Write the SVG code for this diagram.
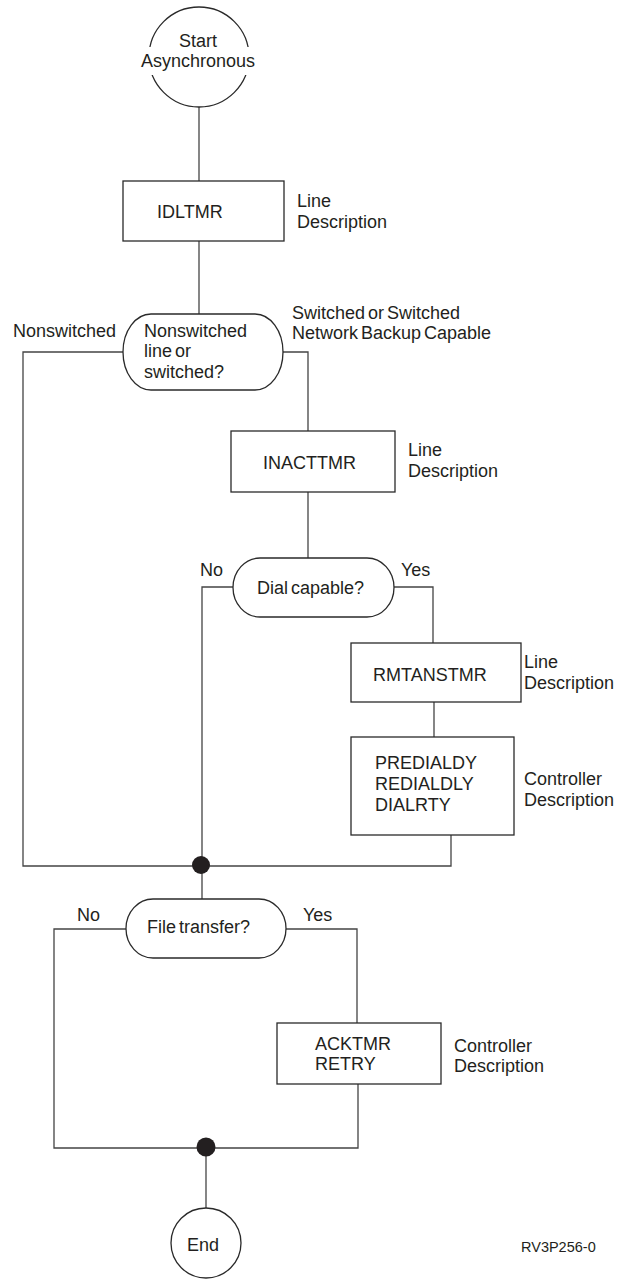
<svg xmlns="http://www.w3.org/2000/svg" width="620" height="1279" viewBox="0 0 620 1279">
<style>
.shape{fill:#fff;stroke:#2a2a2a;stroke-width:1.3}
.conn{fill:none;stroke:#444;stroke-width:1.3}
.dot{fill:#231f20;stroke:none}
text{font-family:"Liberation Sans",Arial,sans-serif;font-size:18px;fill:#231f20}
.ws{word-spacing:-2px}
.small{font-size:14.5px}
</style>
<rect width="620" height="1279" fill="#fff"/>
<g id="connectors">
<path class="conn" d="M199,107 V181"/>
<path class="conn" d="M199,241 V314"/>
<path class="conn" d="M123,352 H23 V866 H451 V835"/>
<path class="conn" d="M283,352 H308 V431"/>
<path class="conn" d="M308,492 V558"/>
<path class="conn" d="M233,587 H202 V899"/>
<path class="conn" d="M394,587 H433 V643"/>
<path class="conn" d="M434,702 V737"/>
<path class="conn" d="M126,929 H54 V1148 H358 V1084"/>
<path class="conn" d="M286,929 H357 V1023"/>
<path class="conn" d="M206,1147 V1208"/>
<circle class="dot" cx="201" cy="865" r="9"/>
<circle class="dot" cx="206" cy="1147" r="9.5"/>
</g>
<g id="start">
<circle class="shape" cx="199" cy="57" r="50"/>
<rect x="138" y="47" width="122" height="28" fill="#fff"/>
<text x="198" y="47" text-anchor="middle">Start</text>
<text x="198" y="67" text-anchor="middle">Asynchronous</text>
</g>
<g id="idltmr">
<rect class="shape" x="123" y="181" width="161" height="60"/>
<text x="157" y="218">IDLTMR</text>
<text x="297" y="207">Line</text>
<text x="297" y="228">Description</text>
</g>
<g id="decision-switched">
<rect class="shape" x="123" y="314" width="160" height="76" rx="28" ry="38"/>
<text x="144" y="337">Nonswitched</text>
<text x="144" y="357" class="ws">line or</text>
<text x="144" y="378">switched?</text>
<text x="13" y="337">Nonswitched</text>
<text x="292" y="319" class="ws">Switched or Switched</text>
<text x="292" y="339" class="ws">Network Backup Capable</text>
</g>
<g id="inacttmr">
<rect class="shape" x="231" y="431" width="164" height="61"/>
<text x="263" y="469">INACTTMR</text>
<text x="408" y="456">Line</text>
<text x="408" y="477">Description</text>
</g>
<g id="decision-dial">
<rect class="shape" x="233" y="558" width="161" height="59" rx="27" ry="29.5"/>
<text x="257" y="594" class="ws">Dial capable?</text>
<text x="200" y="576">No</text>
<text x="401" y="576">Yes</text>
</g>
<g id="rmtanstmr">
<rect class="shape" x="351" y="643" width="170" height="59"/>
<text x="373" y="681">RMTANSTMR</text>
<text x="524" y="668">Line</text>
<text x="524" y="689">Description</text>
</g>
<g id="predialdy">
<rect class="shape" x="351" y="737" width="163" height="98"/>
<text x="375" y="769">PREDIALDY</text>
<text x="375" y="790">REDIALDLY</text>
<text x="375" y="811">DIALRTY</text>
<text x="524" y="785">Controller</text>
<text x="524" y="806">Description</text>
</g>
<g id="decision-file">
<rect class="shape" x="126" y="899" width="160" height="59" rx="27" ry="29.5"/>
<text x="147" y="933" class="ws">File transfer?</text>
<text x="77" y="921">No</text>
<text x="303" y="921">Yes</text>
</g>
<g id="acktmr">
<rect class="shape" x="277" y="1023" width="164" height="61"/>
<text x="315" y="1050">ACKTMR</text>
<text x="315" y="1070">RETRY</text>
<text x="454" y="1052">Controller</text>
<text x="454" y="1072">Description</text>
</g>
<g id="end">
<circle class="shape" cx="206" cy="1243" r="35"/>
<text x="203" y="1251" text-anchor="middle">End</text>
</g>
<text x="521" y="1252" class="small">RV3P256-0</text>
</svg>
